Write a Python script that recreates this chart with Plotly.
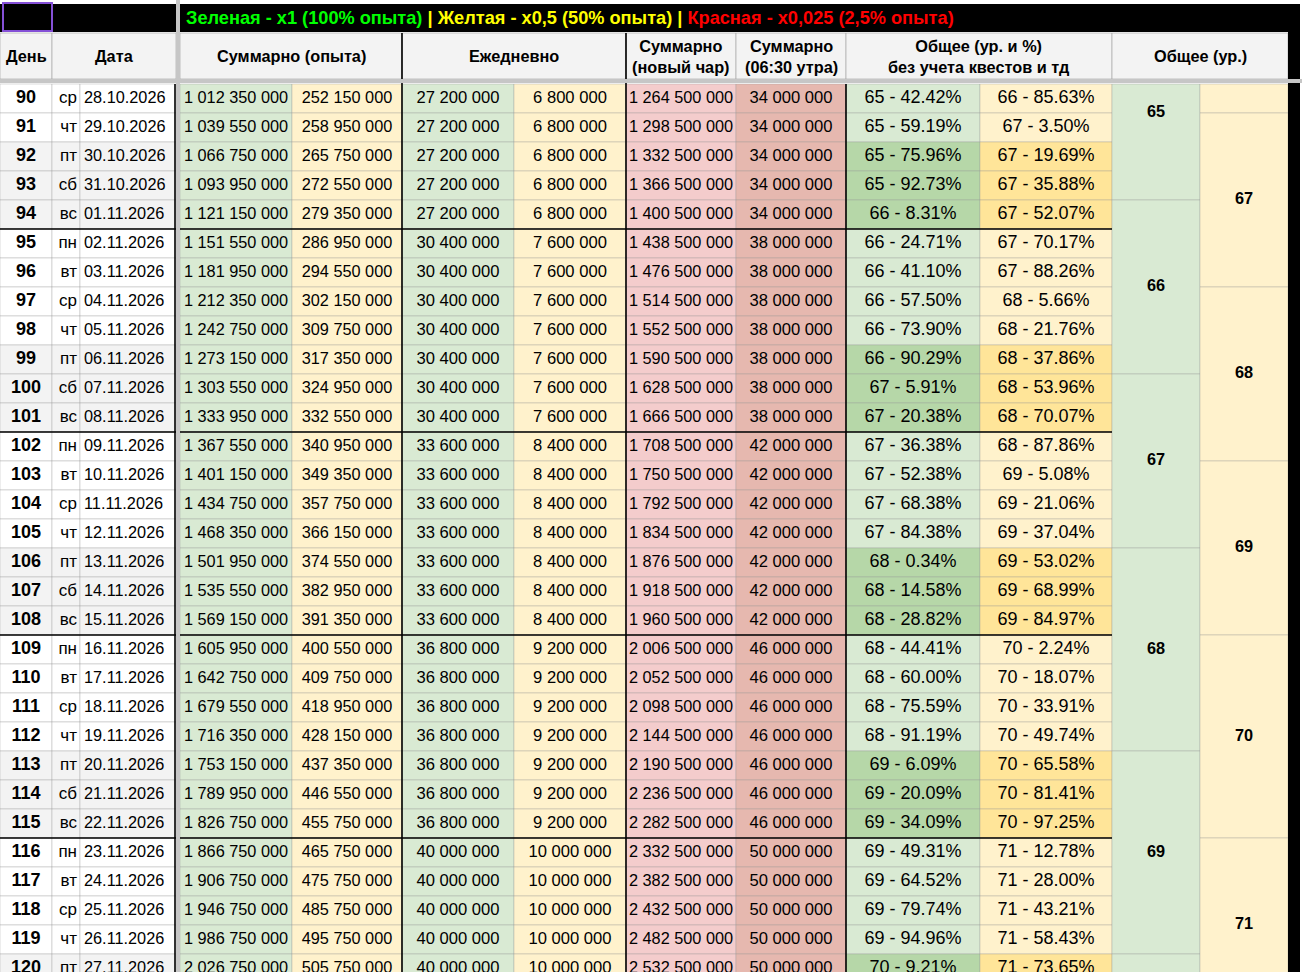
import plotly.graph_objects as go

# ---------------- data ----------------
days = [90, 91, 92, 93, 94, 95, 96, 97, 98, 99, 100, 101, 102, 103, 104, 105,
        106, 107, 108, 109, 110, 111, 112, 113, 114, 115, 116, 117, 118, 119, 120]
weekdays = ["ср", "чт", "пт", "сб", "вс", "пн", "вт", "ср", "чт", "пт", "сб", "вс",
            "пн", "вт", "ср", "чт", "пт", "сб", "вс", "пн", "вт", "ср", "чт", "пт",
            "сб", "вс", "пн", "вт", "ср", "чт", "пт"]
dates = ["28.10.2026", "29.10.2026", "30.10.2026", "31.10.2026", "01.11.2026",
         "02.11.2026", "03.11.2026", "04.11.2026", "05.11.2026", "06.11.2026",
         "07.11.2026", "08.11.2026", "09.11.2026", "10.11.2026", "11.11.2026",
         "12.11.2026", "13.11.2026", "14.11.2026", "15.11.2026", "16.11.2026",
         "17.11.2026", "18.11.2026", "19.11.2026", "20.11.2026", "21.11.2026",
         "22.11.2026", "23.11.2026", "24.11.2026", "25.11.2026", "26.11.2026",
         "27.11.2026"]
sum_full = [1012350000, 1039550000, 1066750000, 1093950000, 1121150000, 1151550000,
            1181950000, 1212350000, 1242750000, 1273150000, 1303550000, 1333950000,
            1367550000, 1401150000, 1434750000, 1468350000, 1501950000, 1535550000,
            1569150000, 1605950000, 1642750000, 1679550000, 1716350000, 1753150000,
            1789950000, 1826750000, 1866750000, 1906750000, 1946750000, 1986750000,
            2026750000]
sum_half = [252150000, 258950000, 265750000, 272550000, 279350000, 286950000,
            294550000, 302150000, 309750000, 317350000, 324950000, 332550000,
            340950000, 349350000, 357750000, 366150000, 374550000, 382950000,
            391350000, 400550000, 409750000, 418950000, 428150000, 437350000,
            446550000, 455750000, 465750000, 475750000, 485750000, 495750000,
            505750000]
daily_full = [27200000, 27200000, 27200000, 27200000, 27200000,
              30400000, 30400000, 30400000, 30400000, 30400000, 30400000, 30400000,
              33600000, 33600000, 33600000, 33600000, 33600000, 33600000, 33600000,
              36800000, 36800000, 36800000, 36800000, 36800000, 36800000, 36800000,
              40000000, 40000000, 40000000, 40000000, 40000000]
daily_half = [6800000, 6800000, 6800000, 6800000, 6800000,
              7600000, 7600000, 7600000, 7600000, 7600000, 7600000, 7600000,
              8400000, 8400000, 8400000, 8400000, 8400000, 8400000, 8400000,
              9200000, 9200000, 9200000, 9200000, 9200000, 9200000, 9200000,
              10000000, 10000000, 10000000, 10000000, 10000000]
sum_new_char = [1264500000, 1298500000, 1332500000, 1366500000, 1400500000, 1438500000,
                1476500000, 1514500000, 1552500000, 1590500000, 1628500000, 1666500000,
                1708500000, 1750500000, 1792500000, 1834500000, 1876500000, 1918500000,
                1960500000, 2006500000, 2052500000, 2098500000, 2144500000, 2190500000,
                2236500000, 2282500000, 2332500000, 2382500000, 2432500000, 2482500000,
                2532500000]
sum_morning = [34000000, 34000000, 34000000, 34000000, 34000000,
               38000000, 38000000, 38000000, 38000000, 38000000, 38000000, 38000000,
               42000000, 42000000, 42000000, 42000000, 42000000, 42000000, 42000000,
               46000000, 46000000, 46000000, 46000000, 46000000, 46000000, 46000000,
               50000000, 50000000, 50000000, 50000000, 50000000]
level_full = ["65 - 42.42%", "65 - 59.19%", "65 - 75.96%", "65 - 92.73%", "66 - 8.31%",
              "66 - 24.71%", "66 - 41.10%", "66 - 57.50%", "66 - 73.90%", "66 - 90.29%",
              "67 - 5.91%", "67 - 20.38%", "67 - 36.38%", "67 - 52.38%", "67 - 68.38%",
              "67 - 84.38%", "68 - 0.34%", "68 - 14.58%", "68 - 28.82%", "68 - 44.41%",
              "68 - 60.00%", "68 - 75.59%", "68 - 91.19%", "69 - 6.09%", "69 - 20.09%",
              "69 - 34.09%", "69 - 49.31%", "69 - 64.52%", "69 - 79.74%", "69 - 94.96%",
              "70 - 9.21%"]
level_half = ["66 - 85.63%", "67 - 3.50%", "67 - 19.69%", "67 - 35.88%", "67 - 52.07%",
              "67 - 70.17%", "67 - 88.26%", "68 - 5.66%", "68 - 21.76%", "68 - 37.86%",
              "68 - 53.96%", "68 - 70.07%", "68 - 87.86%", "69 - 5.08%", "69 - 21.06%",
              "69 - 37.04%", "69 - 53.02%", "69 - 68.99%", "69 - 84.97%", "70 - 2.24%",
              "70 - 18.07%", "70 - 33.91%", "70 - 49.74%", "70 - 65.58%", "70 - 81.41%",
              "70 - 97.25%", "71 - 12.78%", "71 - 28.00%", "71 - 43.21%", "71 - 58.43%",
              "71 - 73.65%"]
# merged "Общее (ур.)" cells: (first day, last day, label)
merged_full = [(88, 93, "65"), (94, 99, "66"), (100, 105, "67"), (106, 112, "68"),
               (113, 119, "69"), (120, 126, "70")]
merged_half = [(85, 90, "66"), (91, 96, "67"), (97, 102, "68"), (103, 108, "69"),
               (109, 115, "70"), (116, 121, "71")]
weekend_days = ["пт", "сб", "вс"]

legend_parts = [("Зеленая - x1 (100% опыта)", "#00ff00"), (" | ", "#ffff00"),
                ("Желтая - x0,5 (50% опыта)", "#ffff00"), (" | ", "#ffff00"),
                ("Красная - x0,025 (2,5% опыта)", "#ff0000")]
headers = [("День", 0, 52), ("Дата", 52, 176), ("Суммарно (опыта)", 180, 402),
           ("Ежедневно", 402, 626), ("Суммарно<br>(новый чар)", 626, 736),
           ("Суммарно<br>(06:30 утра)", 736, 846),
           ("Общее (ур. и %)<br>без учета квестов и тд", 846, 1112),
           ("Общее (ур.)", 1112, 1288)]

# ---------------- layout constants ----------------
FONT = "Liberation Sans, Arial, sans-serif"
W, H = 1302, 972
ROW0, RH = 84, 29
FIRST = days[0]
GREEN, GREEN_D = "#d9ead3", "#b6d7a8"
YELLOW, YELLOW_D = "#fff2cc", "#ffe599"
RED_L, RED = "#f4cccc", "#e6b8af"
GRID = "rgba(150,150,150,0.35)"
GRAY_BG = "#f3f3f3"

cols = {
    "day": (0, 52), "wd": (52, 80), "date": (80, 176),
    "sf": (180, 292), "sh": (292, 402), "df": (402, 514), "dh": (514, 626),
    "nc": (626, 736), "mo": (736, 846), "lf": (846, 980), "lh": (980, 1112),
    "mf": (1112, 1200), "mh": (1200, 1288),
}


def top(i):
    return ROW0 + i * RH


def fmt(v):
    return f"{v:,}".replace(",", " ")


shapes = []


def rect(x0, x1, y0, y1, fill, line=GRID, lw=1, layer="below"):
    shapes.append(dict(type="rect", xref="x", yref="y", x0=x0, x1=x1, y0=y0, y1=y1,
                       fillcolor=fill, line=dict(color=line, width=lw), layer=layer))


def hline(x0, x1, y, color, w):
    shapes.append(dict(type="line", xref="x", yref="y", x0=x0, x1=x1, y0=y, y1=y,
                       line=dict(color=color, width=w), layer="above"))


def vline(x, y0, y1, color, w):
    shapes.append(dict(type="line", xref="x", yref="y", x0=x, x1=x, y0=y0, y1=y1,
                       line=dict(color=color, width=w), layer="above"))


# body cells
for i, d in enumerate(days):
    y0, y1 = top(i), top(i) + RH
    wk = weekdays[i] in weekend_days
    left_bg = GRAY_BG if wk else "white"
    for k in ("day", "wd", "date"):
        rect(*cols[k], y0, y1, left_bg)
    rect(*cols["sf"], y0, y1, GREEN)
    rect(*cols["sh"], y0, y1, YELLOW)
    rect(*cols["df"], y0, y1, GREEN)
    rect(*cols["dh"], y0, y1, YELLOW)
    rect(*cols["nc"], y0, y1, RED_L)
    rect(*cols["mo"], y0, y1, RED)
    rect(*cols["lf"], y0, y1, GREEN_D if wk else GREEN)
    rect(*cols["lh"], y0, y1, YELLOW_D if wk else YELLOW)

# merged cells
last = days[-1]
for key, merged, fill in (("mf", merged_full, GREEN), ("mh", merged_half, YELLOW)):
    for a, b, lab in merged:
        a2, b2 = max(a, FIRST), min(b, last + 1)
        rect(*cols[key], top(a2 - FIRST), top(b2 - FIRST) + RH, fill)

# week separators (black line above each Monday)
for i, wd in enumerate(weekdays):
    if wd == "пн":
        hline(0, 1112, top(i), "black", 1.6)

# black vertical borders
for x in (175, 846):
    vline(x, ROW0, H, "black", 1.6)
for x in (402, 626):
    vline(x, 33, H, "black", 1.6)

# header row 1 (black band)
rect(0, 1300, 4, 32, "black", line="black", lw=0, layer="above")
# header row 2
for lab, x0, x1 in headers:
    rect(x0, x1, 33, 79, GRAY_BG, line="rgba(160,160,160,0.6)", lw=1, layer="above")
for x in (402, 626):
    vline(x, 33, 79, "black", 1.6)
# right black strip
rect(1288, 1300, 4, H, "black", line="black", lw=0, layer="above")
# frozen pane dividers
rect(176, 180, 0, H, "#c6c6c6", line="#c6c6c6", lw=0, layer="above")
rect(0, W, 79, 83, "#c6c6c6", line="#c6c6c6", lw=0, layer="above")
# purple selection box
rect(3, 52, 3, 31, "rgba(0,0,0,0)", line="#8450d6", lw=2, layer="above")

fig = go.Figure()


def cx(k):
    return (cols[k][0] + cols[k][1]) / 2


ys = [top(i) + RH / 2 for i in range(len(days))]


def text_trace(xs, yv, texts, size=16.3, bold=False, pos="middle center"):
    t = [f"<b>{s}</b>" if bold else s for s in texts]
    fig.add_trace(go.Scatter(x=xs, y=yv, text=t, mode="text", textposition=pos,
                             textfont=dict(family=FONT, size=size, color="black"),
                             hoverinfo="skip", cliponaxis=True))


n = len(days)
text_trace([cx("day")] * n, ys, [str(d) for d in days], size=18, bold=True)
text_trace([77] * n, ys, weekdays, size=17, pos="middle left")
text_trace([84] * n, ys, dates, pos="middle right")
text_trace([cx("sf")] * n, ys, [fmt(v) for v in sum_full])
text_trace([cx("sh")] * n, ys, [fmt(v) for v in sum_half])
text_trace([cx("df")] * n, ys, [fmt(v) for v in daily_full], size=16.6)
text_trace([cx("dh")] * n, ys, [fmt(v) for v in daily_half], size=16.6)
text_trace([cx("nc")] * n, ys, [fmt(v) for v in sum_new_char])
text_trace([cx("mo")] * n, ys, [fmt(v) for v in sum_morning], size=16.6)
text_trace([cx("lf")] * n, ys, level_full, size=18)
text_trace([cx("lh")] * n, ys, level_half, size=18)

for key, merged in (("mf", merged_full), ("mh", merged_half)):
    mx, my, mt = [], [], []
    for a, b, lab in merged:
        c = ROW0 + ((a + b + 1) / 2 - FIRST) * RH
        if ROW0 + 10 < c < H:
            mx.append(cx(key))
            my.append(c)
            mt.append(lab)
    text_trace(mx, my, mt, size=16.3, bold=True)

annotations = []
legend_html = "".join(f"<span style='color:{c}'>{t}</span>" for t, c in legend_parts)
annotations.append(dict(x=184, y=18, xref="x", yref="y", text=f"<b>{legend_html}</b>",
                        showarrow=False, xanchor="left", yanchor="middle",
                        font=dict(family=FONT, size=18.2, color="#00ff00")))
for lab, x0, x1 in headers:
    annotations.append(dict(x=(x0 + x1) / 2, y=56, xref="x", yref="y",
                            text=f"<b>{lab}</b>", showarrow=False,
                            xanchor="center", yanchor="middle",
                            font=dict(family=FONT, size=16.3, color="black")))

fig.update_layout(
    width=W, height=H, margin=dict(l=0, r=0, t=0, b=0),
    paper_bgcolor="white", plot_bgcolor="white", showlegend=False,
    xaxis=dict(range=[0, W], visible=False, fixedrange=True),
    yaxis=dict(range=[H, 0], visible=False, fixedrange=True),
    shapes=shapes, annotations=annotations,
)

fig.write_html("out.html", config={"displayModeBar": False},
               post_script="document.body.style.margin='0';document.body.style.overflow='hidden';")
